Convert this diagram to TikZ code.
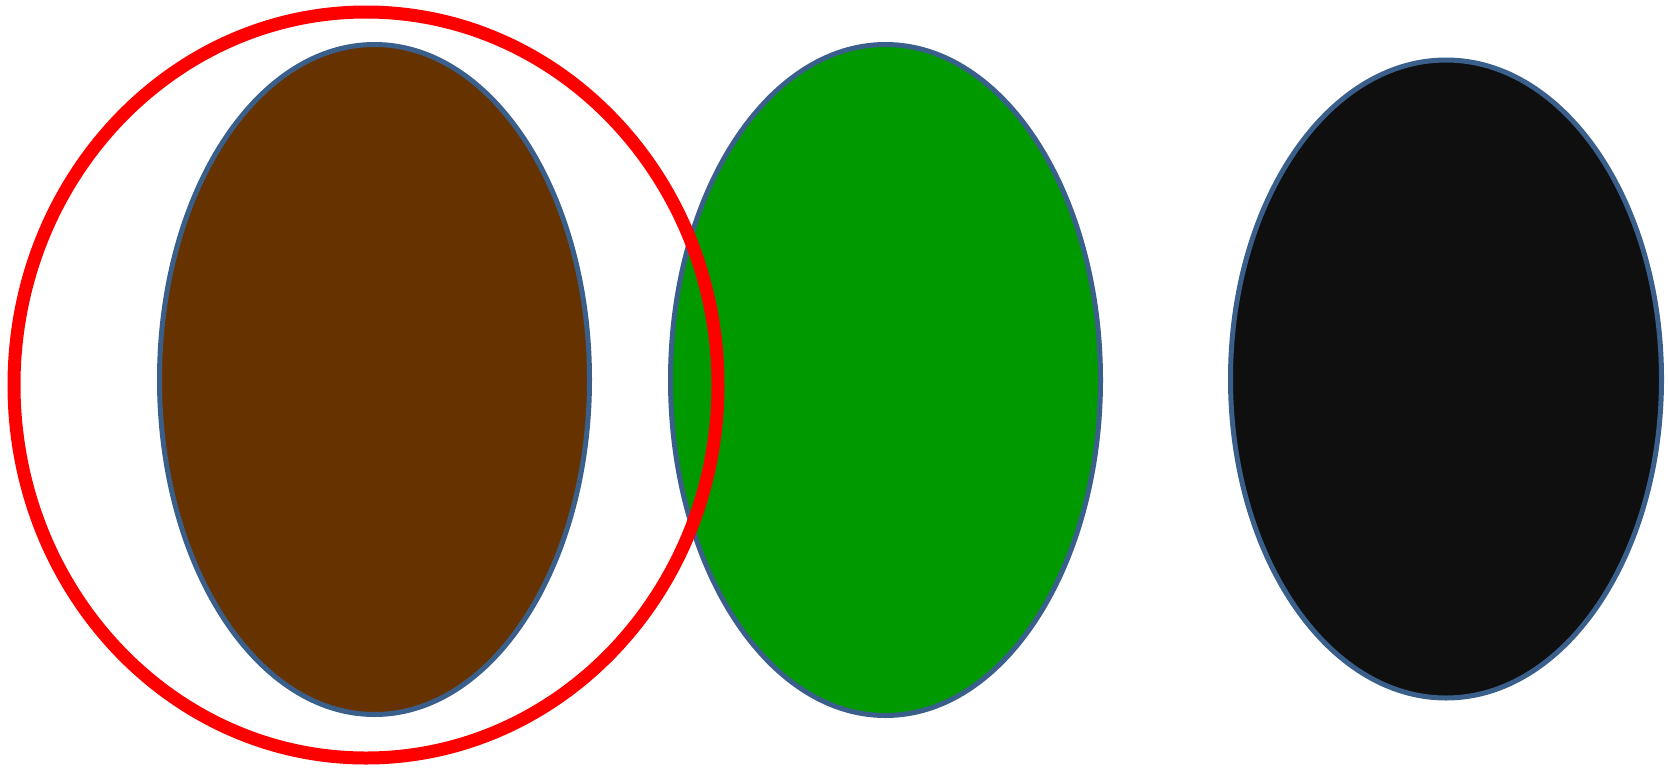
\documentclass[tikz,border=0pt]{standalone}
\usetikzlibrary{shapes.geometric}
\definecolor{outl}{HTML}{3A5F8A}
\definecolor{brownf}{HTML}{663300}
\definecolor{greenf}{HTML}{009900}
\definecolor{blackf}{HTML}{0F0F0F}
\tikzset{
  blob/.style={ellipse, draw=outl, line width=5pt, inner sep=0pt, outer sep=0pt},
  ring/.style={ellipse, draw=red, line width=13pt, inner sep=0pt, outer sep=0pt}
}
\begin{document}
\begin{tikzpicture}[x=1pt,y=-1pt]
\useasboundingbox (0,0) rectangle (1668,772);
\node[blob, fill=brownf, minimum width=430pt, minimum height=670pt] (brown) at (374.5,379.5) {};
\node[blob, fill=greenf, minimum width=430pt, minimum height=671pt] (green) at (885.5,380) {};
\node[blob, fill=blackf, minimum width=431pt, minimum height=638pt] (black) at (1446,379) {};
\node[ring, minimum width=704pt, minimum height=746pt] (red) at (366,385) {};
\end{tikzpicture}
\end{document}
